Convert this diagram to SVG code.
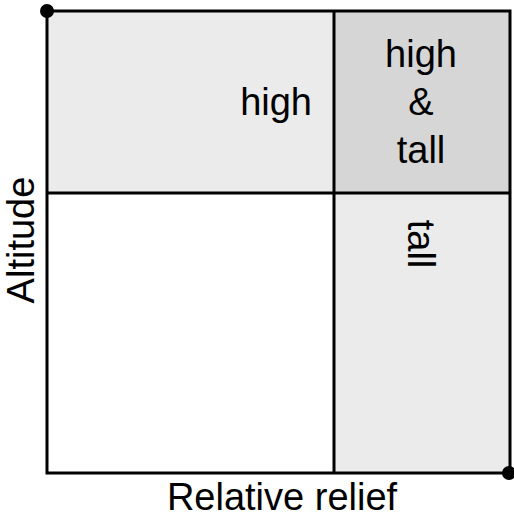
<svg xmlns="http://www.w3.org/2000/svg" width="514" height="519" viewBox="0 0 514 519">
  <style>
    .lbl { font-family: "Liberation Sans", Arial, sans-serif; font-size: 38px; fill: #000; }
    .edge { stroke: #000; stroke-width: 3; fill: none; }
    .light { fill: #ebebeb; }
    .dark { fill: #d6d6d6; }
  </style>
  <rect x="0" y="0" width="514" height="519" fill="#fff"/>

  <!-- quadrants -->
  <g id="high">
    <rect class="light" x="47" y="11" width="287" height="182"/>
    <text class="lbl" x="312" y="115" text-anchor="end">high</text>
  </g>
  <g id="high-tall">
    <rect class="dark" x="334" y="11" width="176" height="182"/>
    <text class="lbl" x="421" y="67" text-anchor="middle">high</text>
    <text class="lbl" x="421" y="115" text-anchor="middle">&amp;</text>
    <text class="lbl" x="421" y="163" text-anchor="middle">tall</text>
  </g>
  <g id="tall">
    <rect class="light" x="334" y="193" width="176" height="280"/>
    <text class="lbl" transform="translate(408,244) rotate(90)" text-anchor="middle">tall</text>
  </g>
  <g id="low">
    <rect x="47" y="193" width="287" height="280" fill="#fff"/>
  </g>

  <!-- frame and dividers -->
  <g id="connectors">
    <rect class="edge" x="47" y="11" width="463" height="462"/>
    <line class="edge" x1="334" y1="11" x2="334" y2="473"/>
    <line class="edge" x1="47" y1="193" x2="510" y2="193"/>
    <circle cx="47" cy="11" r="7" fill="#000"/>
    <circle cx="509" cy="473" r="7" fill="#000"/>
  </g>

  <!-- axis labels -->
  <g id="axis-x">
    <text class="lbl" x="282" y="510" text-anchor="middle">Relative relief</text>
  </g>
  <g id="axis-y">
    <text class="lbl" transform="translate(34,240) rotate(-90)" text-anchor="middle">Altitude</text>
  </g>
</svg>
